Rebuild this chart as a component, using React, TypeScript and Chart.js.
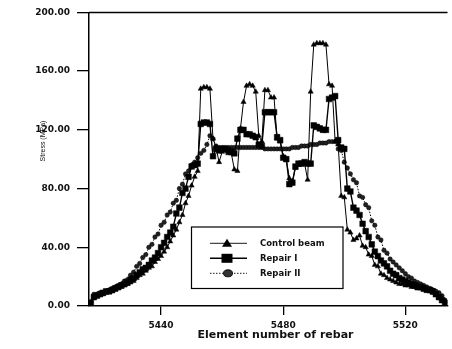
import React, { useEffect, useRef } from "react";
import { Chart, registerables } from "chart.js";
Chart.register(...registerables);

const elements: number[] = [
  5417, 5418, 5419, 5420, 5421, 5422, 5423, 5424, 5425, 5426,
  5427, 5428, 5429, 5430, 5431, 5432, 5433, 5434, 5435, 5436,
  5437, 5438, 5439, 5440, 5441, 5442, 5443, 5444, 5445, 5446,
  5447, 5448, 5449, 5450, 5451, 5452, 5453, 5454, 5455, 5456,
  5457, 5458, 5459, 5460, 5461, 5462, 5463, 5464, 5465, 5466,
  5467, 5468, 5469, 5470, 5471, 5472, 5473, 5474, 5475, 5476,
  5477, 5478, 5479, 5480, 5481, 5482, 5483, 5484, 5485, 5486,
  5487, 5488, 5489, 5490, 5491, 5492, 5493, 5494, 5495, 5496,
  5497, 5498, 5499, 5500, 5501, 5502, 5503, 5504, 5505, 5506,
  5507, 5508, 5509, 5510, 5511, 5512, 5513, 5514, 5515, 5516,
  5517, 5518, 5519, 5520, 5521, 5522, 5523, 5524, 5525, 5526,
  5527, 5528, 5529, 5530, 5531, 5532, 5533,
];

const controlBeam: number[] = [
  1, 6, 7, 8, 8, 9, 10, 10, 11, 12,
  13, 14, 15, 16, 17, 19, 21, 22, 24, 26,
  27, 30, 32, 34, 37, 40, 44, 48, 52, 57,
  62, 70, 75, 82, 88, 92, 148, 149, 149, 148,
  114, 108, 98, 105, 106, 104, 104, 93, 92, 121,
  139, 150, 151, 150, 146, 116, 112, 147, 147, 142,
  142, 114, 112, 102, 100, 87, 85, 94, 96, 97,
  97, 86, 146, 178, 179, 179, 179, 178, 151, 150,
  112, 110, 75, 74, 52, 50, 45, 46, 48, 41,
  40, 35, 34, 28, 27, 22, 21, 19, 18, 17,
  16, 15, 15, 14, 14, 13, 13, 12, 12, 11,
  11, 10, 9, 8, 6, 5, 3,
];

const repairI: number[] = [
  2, 6, 7, 8, 9, 10, 10, 11, 12, 13,
  14, 15, 16, 18, 19, 21, 23, 25, 26, 28,
  31, 33, 36, 40, 43, 47, 50, 54, 63, 67,
  77, 80, 88, 95, 96, 97, 124, 125, 125, 124,
  102, 107, 106, 107, 107, 106, 105, 104, 114, 120,
  120, 117, 117, 116, 115, 110, 109, 132, 132, 132,
  132, 115, 113, 101, 100, 83, 84, 95, 97, 97,
  98, 97, 97, 123, 122, 121, 120, 120, 141, 142,
  143, 113, 108, 107, 80, 78, 67, 65, 62, 56,
  51, 47, 42, 37, 34, 31, 29, 27, 24, 22,
  21, 19, 18, 17, 16, 15, 14, 13, 13, 12,
  11, 11, 10, 8, 6, 4, 2,
];

const repairII: number[] = [
  3, 8, 8, 9, 9, 10, 11, 12, 13, 14,
  15, 17, 18, 21, 23, 27, 29, 33, 35, 40,
  42, 47, 49, 55, 57, 62, 64, 70, 72, 80,
  83, 90, 92, 96, 98, 101, 104, 106, 110, 116,
  114, 109, 108, 108, 108, 108, 108, 108, 108, 108,
  108, 108, 108, 108, 108, 108, 108, 107, 107, 107,
  107, 107, 107, 107, 107, 107, 108, 108, 108, 109,
  109, 109, 110, 110, 110, 111, 111, 111, 112, 112,
  112, 107, 106, 98, 94, 90, 86, 84, 75, 74,
  69, 67, 58, 55, 47, 45, 38, 36, 32, 30,
  28, 26, 24, 22, 20, 19, 17, 16, 15, 14,
  13, 12, 11, 10, 9, 7, 4,
];

const seriesNames: string[] = ["Control beam", "Repair I", "Repair II"];
const xTickValues: number[] = [5440, 5480, 5520];
const yTickValues: number[] = [0, 40, 80, 120, 160, 200];
const xTitle = "Element number of rebar";
const yTitle = "Stress (MPa)";

const toPoints = (ys: number[]) => elements.map((x, i) => ({ x, y: ys[i] }));

const decorPlugin = {
  id: "decor",
  afterDraw(chart: any) {
    const { ctx, chartArea: a } = chart;
    ctx.save();
    // top frame line
    ctx.strokeStyle = "#000";
    ctx.lineWidth = 1.5;
    ctx.beginPath();
    ctx.moveTo(a.left, a.top);
    ctx.lineTo(a.right, a.top);
    ctx.stroke();

    // x title
    ctx.fillStyle = "#111";
    ctx.font = 'bold 11px "DejaVu Sans"';
    ctx.textAlign = "center";
    ctx.textBaseline = "alphabetic";
    ctx.fillText(xTitle, 275.5, 338);

    // y title
    ctx.save();
    ctx.translate(43, 141);
    ctx.rotate(-Math.PI / 2);
    ctx.font = '7px "Liberation Sans"';
    ctx.textAlign = "center";
    ctx.textBaseline = "middle";
    ctx.fillText(yTitle, 0, 0);
    ctx.restore();

    // legend box
    const bx = 191.5, by = 227, bw = 151.5, bh = 61.5;
    ctx.fillStyle = "#fff";
    ctx.fillRect(bx, by, bw, bh);
    ctx.strokeStyle = "#000";
    ctx.lineWidth = 1.2;
    ctx.strokeRect(bx, by, bw, bh);

    const rows = [243.3, 258.3, 273.3];
    const lx0 = 210, lx1 = 247, mx = 227, tx = 260;
    rows.forEach((ry, i) => {
      ctx.strokeStyle = "#000";
      ctx.setLineDash(i === 2 ? [1.5, 1.5] : []);
      ctx.lineWidth = i === 1 ? 1.6 : 0.9;
      ctx.beginPath();
      ctx.moveTo(lx0, ry);
      ctx.lineTo(lx1, ry);
      ctx.stroke();
      ctx.setLineDash([]);
      ctx.fillStyle = "#000";
      if (i === 0) {
        ctx.beginPath();
        ctx.moveTo(mx, ry - 4.5);
        ctx.lineTo(mx + 5, ry + 3.5);
        ctx.lineTo(mx - 5, ry + 3.5);
        ctx.closePath();
        ctx.fill();
      } else if (i === 1) {
        ctx.fillRect(mx - 5.5, ry - 4.5, 11, 9);
      } else {
        ctx.beginPath();
        ctx.ellipse(mx + 1, ry, 4.5, 3.5, 0, 0, Math.PI * 2);
        ctx.fillStyle = "#333";
        ctx.fill();
        ctx.stroke();
      }
      ctx.fillStyle = "#111";
      ctx.font = 'bold 8.5px "DejaVu Sans"';
      ctx.textAlign = "left";
      ctx.textBaseline = "middle";
      ctx.fillText(seriesNames[i], tx, ry);
    });
    ctx.restore();
  },
};

export default function App() {
  const canvasRef = useRef<HTMLCanvasElement | null>(null);

  useEffect(() => {
    const canvas = canvasRef.current;
    if (!canvas) return;
    const tickFont = { family: "DejaVu Sans", size: 9, weight: "bold" as const };
    const chart = new Chart(canvas, {
      type: "line",
      data: {
        datasets: [
          {
            label: seriesNames[0],
            data: toPoints(controlBeam),
            borderColor: "#000",
            backgroundColor: "#000",
            borderWidth: 1,
            pointStyle: "triangle",
            pointRadius: 3,
            pointBorderWidth: 0.5,
          },
          {
            label: seriesNames[1],
            data: toPoints(repairI),
            borderColor: "#000",
            backgroundColor: "#000",
            borderWidth: 1.4,
            pointStyle: "rect",
            pointRadius: 4,
            pointBorderWidth: 0.5,
          },
          {
            label: seriesNames[2],
            data: toPoints(repairII),
            borderColor: "#000",
            backgroundColor: "#222",
            borderWidth: 1,
            borderDash: [1.5, 1.5],
            pointStyle: "circle",
            pointRadius: 2.2,
            pointBorderWidth: 0.5,
          },
        ],
      },
      options: {
        responsive: false,
        animation: false,
        layout: { padding: { left: 0, top: 12, right: 1, bottom: 0 } },
        plugins: { legend: { display: false }, tooltip: { enabled: false } },
        scales: {
          x: {
            type: "linear",
            min: 5416.4,
            max: 5533.8,
            afterFit: (s: any) => { s.height = 43; },
            afterBuildTicks: (s: any) => { s.ticks = xTickValues.map((v) => ({ value: v })); },
            ticks: {
              color: "#111",
              font: tickFont,
              padding: 5,
              maxRotation: 0,
              callback: (v: any) => String(v),
            },
            grid: {
              display: true,
              drawOnChartArea: false,
              drawTicks: true,
              tickLength: 9,
              color: "#000",
              lineWidth: 1.3,
            },
            border: { display: true, color: "#000", width: 1.5 },
          },
          y: {
            type: "linear",
            min: 0,
            max: 200,
            afterFit: (s: any) => { s.width = 89; },
            afterBuildTicks: (s: any) => { s.ticks = yTickValues.map((v) => ({ value: v })); },
            ticks: {
              color: "#111",
              font: tickFont,
              padding: 7,
              callback: (v: any) => Number(v).toFixed(2),
            },
            grid: {
              display: true,
              drawOnChartArea: false,
              drawTicks: true,
              tickLength: 12,
              color: "#000",
              lineWidth: 1.3,
            },
            border: { display: true, color: "#000", width: 1.5 },
          },
        },
      },
      plugins: [decorPlugin],
    });
    return () => chart.destroy();
  }, []);

  return (
    <div style={{ position: "fixed", left: 0, top: 0, width: 452, height: 349, background: "#fff" }}>
      <canvas ref={canvasRef} width={452} height={349} style={{ width: 452, height: 349, display: "block" }} />
    </div>
  );
}
